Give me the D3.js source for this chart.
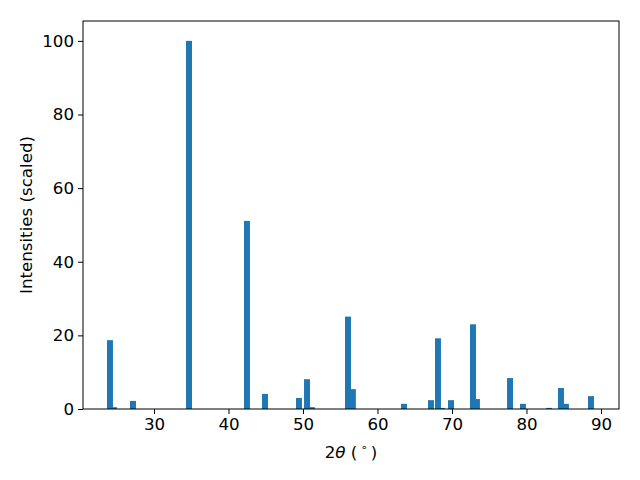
<!DOCTYPE html>
<html><head><meta charset="utf-8">
<script src="https://cdn.jsdelivr.net/npm/d3@7"></script>
<style>body{margin:0;background:#fff}svg{display:block}text{font-family:"DejaVu Sans",sans-serif}</style>
</head><body>
<script>
const twoTheta = [24.09, 24.63, 27.18, 34.70, 42.48, 44.90, 49.46, 50.54, 51.20, 56.04, 56.70, 63.56, 67.18, 68.12, 68.66, 69.87, 72.82, 73.35, 77.79, 79.53, 83.02, 84.63, 85.30, 88.66];
const intensity = [18.7, 0.5, 2.2, 100, 51.1, 4.1, 3.0, 8.1, 0.5, 25.1, 5.4, 1.4, 2.4, 19.2, 0.3, 2.4, 23.0, 2.7, 8.4, 1.4, 0.3, 5.7, 1.4, 3.5];
const xTicks = [30, 40, 50, 60, 70, 80, 90];
const yTicks = [0, 20, 40, 60, 80, 100];
const barWidth = 0.8;

const W = 640, H = 480;
const m = {left: 83, right: 21, top: 21, bottom: 71};
const svg = d3.select("body").append("svg").attr("width", W).attr("height", H);
const x = d3.scaleLinear().domain([20.47, 92.42]).range([m.left, W - m.right]);
const y = d3.scaleLinear().domain([0, 105.4]).range([H - m.bottom, m.top]);

svg.append("g").selectAll("rect").data(twoTheta).join("rect")
  .attr("x", (d) => x(d - barWidth / 2))
  .attr("width", (d) => x(d + barWidth / 2) - x(d - barWidth / 2))
  .attr("y", (d, i) => y(intensity[i]))
  .attr("height", (d, i) => y(0) - y(intensity[i]))
  .attr("fill", "#1f77b4");

const fs = 16.67;
const gx = svg.append("g").attr("transform", `translate(0,${H - m.bottom})`)
  .call(d3.axisBottom(x).tickValues(xTicks).tickSize(5).tickPadding(4).tickFormat(d3.format("d")));
const gy = svg.append("g").attr("transform", `translate(${m.left},0)`)
  .call(d3.axisLeft(y).tickValues(yTicks).tickSize(5).tickPadding(4).tickFormat(d3.format("d")));
[gx, gy].forEach(g => {
  g.select(".domain").remove();
  g.selectAll("text").attr("font-size", fs).attr("fill", "#000").attr("font-family", "DejaVu Sans");
  g.selectAll("line").attr("stroke", "#000").attr("stroke-width", 1);
});

svg.append("rect").attr("x", m.left).attr("y", m.top)
  .attr("width", W - m.left - m.right).attr("height", H - m.top - m.bottom)
  .attr("fill", "none").attr("stroke", "#000").attr("stroke-width", 1);

const xl = svg.append("text").attr("x", (m.left + W - m.right) / 2).attr("y", 458)
  .attr("text-anchor", "middle").attr("font-size", fs);
xl.append("tspan").text("2");
xl.append("tspan").attr("font-style", "italic").text("θ");
xl.append("tspan").text(" (\u2009");
xl.append("tspan").attr("font-size", 11).attr("dy", -7).text("∘");
xl.append("tspan").attr("dy", 7).text("\u2009)");

svg.append("text").attr("transform", `translate(32,${(m.top + H - m.bottom) / 2}) rotate(-90)`)
  .attr("text-anchor", "middle").attr("font-size", fs).text("Intensities (scaled)");
</script>
</body></html>
